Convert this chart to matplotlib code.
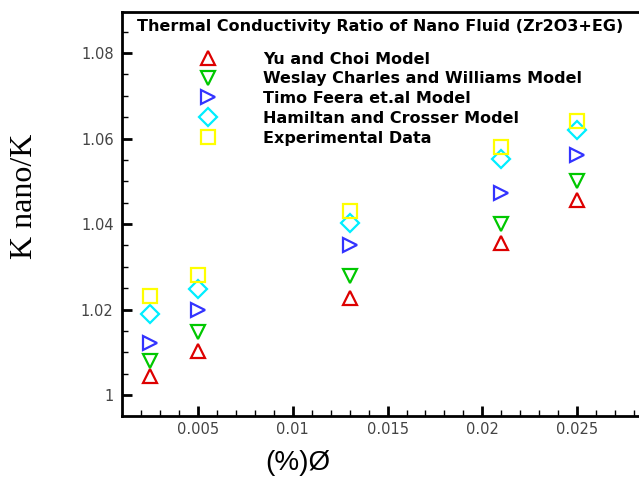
import numpy as np
import matplotlib.pyplot as plt
from matplotlib.ticker import MultipleLocator

# volume fraction (%)
phi = [0.0025, 0.005, 0.013, 0.021, 0.025]

yu_choi = [1.0044, 1.0104, 1.0228, 1.0356, 1.0456]
weslay = [1.0080, 1.0148, 1.0278, 1.0400, 1.0500]
timo = [1.0122, 1.0199, 1.0352, 1.0472, 1.0561]
hamilton = [1.0190, 1.0248, 1.0402, 1.0552, 1.0620]
experiment = [1.0232, 1.0280, 1.0431, 1.0581, 1.0641]

labels = ['Yu and Choi Model', 'Weslay Charles and Williams Model',
          'Timo Feera et.al Model', 'Hamiltan and Crosser Model',
          'Experimental Data']

fig = plt.figure(figsize=(6.39, 4.79), dpi=100)
ax = fig.add_axes([122/639, 1-416/479, 1-122/639, 404/479])

mk = dict(linestyle='none', markersize=10.5, markerfacecolor='none', markeredgewidth=1.6)
ax.plot(phi, yu_choi, marker='^', markeredgecolor='#dd0000', label=labels[0], **mk)
ax.plot(phi, weslay, marker='v', markeredgecolor='#00c800', label=labels[1], **mk)
ax.plot(phi, timo, marker='>', markeredgecolor='#3333ff', label=labels[2], **mk)
ax.plot(phi, hamilton, marker='D', markeredgecolor='#00eeff', label=labels[3],
        **{**mk, 'markersize': 9.5})
ax.plot(phi, experiment, marker='s', markeredgecolor='#ffff00', label=labels[4], **mk)

ax.set_xlim(0.00101, 0.02825)
ax.set_ylim(0.9951, 1.0896)

ax.xaxis.set_minor_locator(MultipleLocator(0.001))
ax.yaxis.set_minor_locator(MultipleLocator(0.005))
ax.set_xticks([0.005, 0.01, 0.015, 0.02, 0.025])
ax.set_xticklabels(['0.005', '0.01', '0.015', '0.02', '0.025'])
ax.set_yticks([1, 1.02, 1.04, 1.06, 1.08])
ax.set_yticklabels(['1', '1.02', '1.04', '1.06', '1.08'])

ax.tick_params(which='major', direction='in', length=7, width=2, labelsize=10.5,
               labelcolor='#444444', labelfontfamily='DejaVu Sans')
ax.tick_params(axis='x', which='major', pad=4)
ax.tick_params(axis='y', which='major', pad=6)
ax.tick_params(which='minor', direction='in', length=4, width=1)
for s in ['left', 'bottom', 'top']:
    ax.spines[s].set_linewidth(2)
ax.spines['right'].set_visible(False)

ax.set_ylabel('K nano/K', family='Liberation Serif', fontsize=23)
ax.yaxis.set_label_coords(-0.16, 0.545)
fig.text(298/639, 1-463/479, '(%)Ø', family='Liberation Sans', fontsize=20,
         ha='center', va='center')

ax.text((137-122)/517, 1-(27-12)/404,
        'Thermal Conductivity Ratio of Nano Fluid (Zr2O3+EG)',
        transform=ax.transAxes, family='DejaVu Sans', fontweight='bold',
        fontsize=11.5, va='center', ha='left')

leg = ax.legend(loc='upper left', bbox_to_anchor=((196-122)/517, 1-(51.5-12)/404),
                frameon=False, prop={'family': 'DejaVu Sans', 'weight': 'bold', 'size': 11.5},
                handlelength=1.5, handletextpad=2.69, labelspacing=0.3,
                borderpad=0, borderaxespad=0)

fig.savefig('out.png', dpi=100)
